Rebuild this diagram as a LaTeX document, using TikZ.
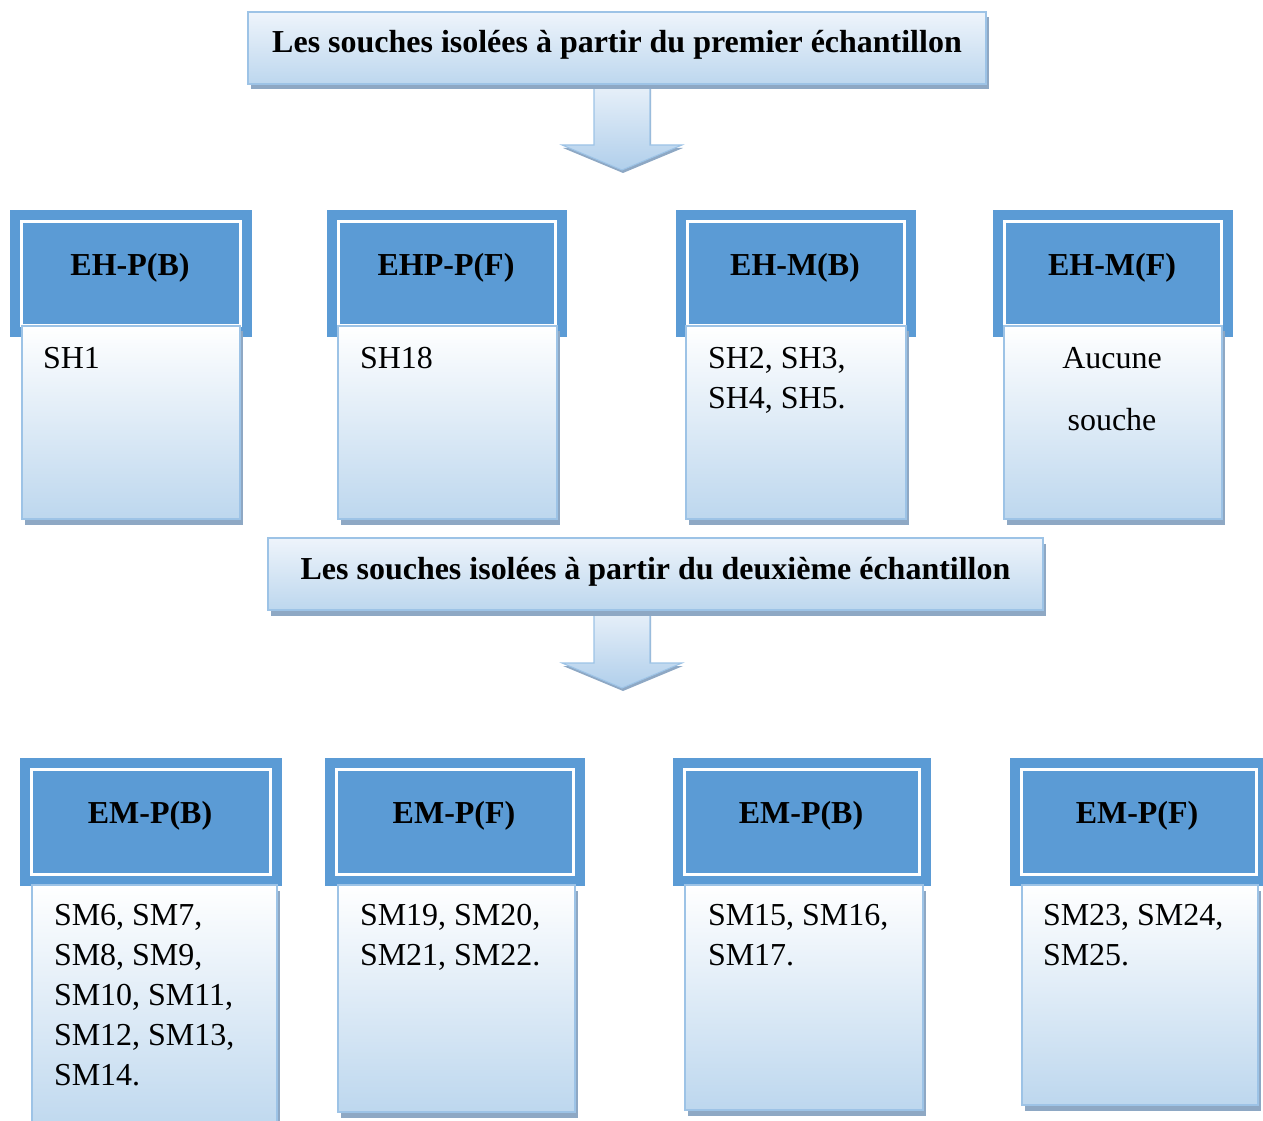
\documentclass[tikz,border=0pt]{standalone}
\usepackage{fontspec}
\setmainfont{Liberation Serif}
\usetikzlibrary{fit,shadows}
\definecolor{hdblue}{HTML}{5B9BD5}
\definecolor{edgeblue}{HTML}{9DC3E6}
\definecolor{paleblue}{HTML}{BDD7EE}
\definecolor{topblue}{HTML}{EEF4FB}
\definecolor{shadowblue}{HTML}{8EA8C4}

\begin{document}
\begin{tikzpicture}[x=0.02cm, y=-0.02cm,
  every node/.style={font=\fontsize{18.2pt}{22.76pt}\selectfont, inner sep=0pt, outer sep=0pt},
  boxshadow/.style={drop shadow={shadow xshift=0.06cm, shadow yshift=-0.11cm, fill=shadowblue, opacity=1}},
  titlebox/.style={draw=edgeblue, line width=0.6pt, top color=topblue, bottom color=paleblue, boxshadow},
  bigarrow/.style={draw=edgeblue, line width=0.6pt, top color=topblue, bottom color=edgeblue!80,
    drop shadow={shadow xshift=0.02cm, shadow yshift=-0.06cm, fill=shadowblue, opacity=1}},
  header/.style={fill=hdblue, draw=hdblue, line width=0.2cm, double=white, double distance=0.06cm},
  hdtext/.style={anchor=base, font=\fontsize{18.2pt}{22.76pt}\selectfont\bfseries},
  cell/.style={draw=edgeblue, line width=0.8pt, top color=white, bottom color=paleblue, boxshadow},
  strains/.style={anchor=north west, align=left}]
  \useasboundingbox (0,0) rectangle (1263,1121);

  \coordinate (a1) at (622,75);
  \path[bigarrow] (a1) ++(-28,0) -- ++(0,70) -- ++(-32,0) -- ++(60,25) -- ++(60,-25) -- ++(-32,0) -- ++(0,-70) -- cycle;
  \node[titlebox, fit={(248,12) (986,84)}] (t1) {};
  \node[hdtext] (t1t) at (617,53) {Les souches isolées à partir du premier échantillon};

  \node[header, fit={(21.5,221.5) (240.5,325.5)}] (h1) {};
  \node[header, fit={(338.5,221.5) (555.5,325.5)}] (h2) {};
  \node[header, fit={(687.5,221.5) (904.5,325.5)}] (h3) {};
  \node[header, fit={(1004.5,221.5) (1221.5,325.5)}] (h4) {};
  \node[cell, fit={(22,326) (240,519)}] (b1) {};
  \node[cell, fit={(338,326) (557,519)}] (b2) {};
  \node[cell, fit={(686,326) (906,519)}] (b3) {};
  \node[cell, fit={(1004,326) (1222,519)}] (b4) {};
  \node[hdtext] (h1t) at (130,276) {EH-P(B)};
  \node[hdtext] (h2t) at (446,276) {EHP-P(F)};
  \node[hdtext] (h3t) at (795,276) {EH-M(B)};
  \node[hdtext] (h4t) at (1112,276) {EH-M(F)};
  \node[strains] (b1t) at (43,347) {SH1};
  \node[strains] (b2t) at (360,347) {SH18};
  \node[strains] (b3t) at (708,347) {SH2, SH3,\\SH4, SH5.};
  \node[strains, anchor=north, align=center] (b4t) at (1112,347) {Aucune\\[0.44cm]souche};

  \coordinate (a2) at (622,602);
  \path[bigarrow] (a2) ++(-28,0) -- ++(0,61) -- ++(-32,0) -- ++(60,25) -- ++(60,-25) -- ++(-32,0) -- ++(0,-61) -- cycle;
  \node[titlebox, fit={(268,538) (1043,610)}] (t2) {};
  \node[hdtext] (t2t) at (655.5,579) {Les souches isolées à partir du deuxième échantillon};

  \node[header, fit={(31.5,769.5) (270.5,874.5)}] (k1) {};
  \node[header, fit={(336.5,769.5) (573.5,874.5)}] (k2) {};
  \node[header, fit={(684.5,769.5) (919.5,874.5)}] (k3) {};
  \node[header, fit={(1021.5,769.5) (1256.5,874.5)}] (k4) {};
  \node[cell, fit={(32,885) (277,1135)}] (m1) {};
  \node[cell, fit={(338,885) (575,1112)}] (m2) {};
  \node[cell, fit={(685,885) (923,1110)}] (m3) {};
  \node[cell, fit={(1022,885) (1258,1105)}] (m4) {};
  \node[hdtext] (k1t) at (150,823) {EM-P(B)};
  \node[hdtext] (k2t) at (454,823) {EM-P(F)};
  \node[hdtext] (k3t) at (801,823) {EM-P(B)};
  \node[hdtext] (k4t) at (1137,823) {EM-P(F)};
  \node[strains] (m1t) at (54,904) {SM6, SM7,\\SM8, SM9,\\SM10, SM11,\\SM12, SM13,\\SM14.};
  \node[strains] (m2t) at (360,904) {SM19, SM20,\\SM21, SM22.};
  \node[strains] (m3t) at (708,904) {SM15, SM16,\\SM17.};
  \node[strains] (m4t) at (1043,904) {SM23, SM24,\\SM25.};
\end{tikzpicture}
\end{document}
